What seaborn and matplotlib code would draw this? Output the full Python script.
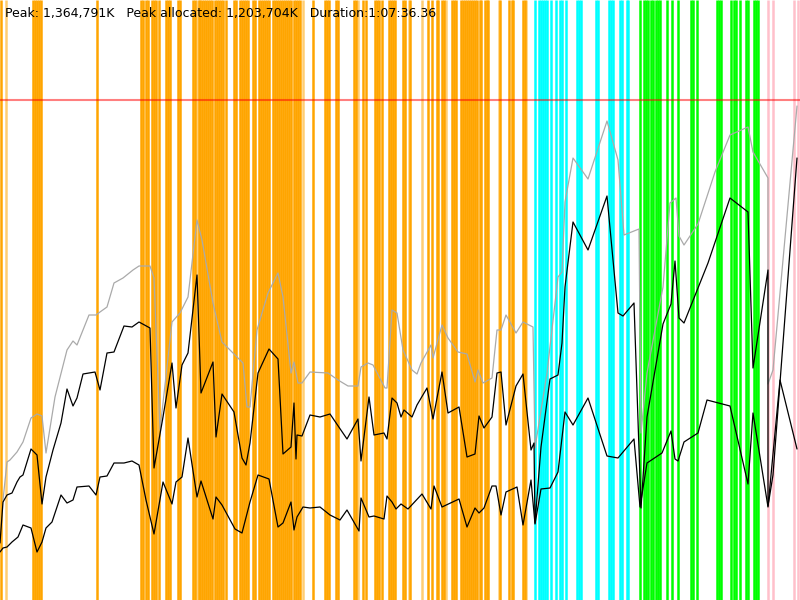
import numpy as np
import pandas as pd
import matplotlib
matplotlib.use('Agg')
import matplotlib.pyplot as plt
import seaborn as sns

# memory trace (x = time step, y = memory level)
gray_t = [3, 7, 10, 17, 23, 31, 37, 42, 46, 55, 67, 73, 77, 89, 96, 100, 107, 114, 123, 133, 139, 150, 154, 160,
          172, 180, 188, 197, 202, 213, 222, 233, 243, 247, 250, 257, 268, 278, 283, 291, 294, 298, 302, 310, 328,
          338, 348, 358, 361, 368, 373, 385, 387, 392, 397, 403, 412, 417, 421, 431, 433, 442, 448, 458, 467, 475,
          478, 483, 492, 497, 501, 506, 516, 523, 533, 535, 547, 558, 562, 565, 573, 588, 607, 618, 624, 639, 641,
          647, 663, 670, 676, 679, 684, 698, 715, 730, 748, 753, 768, 768, 773, 797]
gray_v = [100, 138, 140, 148, 158, 182, 186, 184, 147, 203, 250, 259, 255, 285, 285, 288, 293, 317, 322, 330, 334,
          334, 322, 170, 278, 287, 303, 380, 360, 297, 258, 247, 237, 193, 193, 270, 307, 327, 303, 227, 238, 217,
          217, 228, 227, 220, 214, 214, 233, 237, 235, 212, 212, 290, 287, 250, 230, 226, 237, 255, 242, 275, 262,
          248, 246, 218, 230, 217, 222, 270, 270, 285, 267, 278, 273, 152, 227, 323, 328, 398, 442, 421, 479, 440,
          365, 371, 167, 227, 313, 397, 402, 364, 355, 376, 428, 465, 473, 448, 422, 216, 230, 494]

used_t = [0, 3, 7, 12, 17, 20, 23, 31, 37, 42, 46, 53, 61, 67, 73, 77, 83, 95, 100, 107, 114, 124, 132, 139, 150,
          154, 163, 172, 176, 182, 188, 197, 201, 213, 216, 222, 234, 242, 246, 250, 258, 269, 278, 283, 291, 294,
          296, 297, 302, 310, 320, 330, 347, 358, 361, 369, 374, 384, 387, 392, 397, 401, 404, 412, 417, 427, 433,
          442, 448, 459, 467, 475, 479, 484, 492, 497, 501, 506, 516, 523, 531, 534, 535, 541, 550, 558, 562, 565,
          573, 588, 607, 618, 623, 634, 641, 647, 663, 671, 675, 679, 684, 708, 730, 748, 753, 768, 768, 773, 797]
used_v = [57, 98, 105, 107, 118, 123, 125, 151, 145, 96, 123, 150, 177, 211, 194, 202, 226, 228, 210, 247, 248, 274,
          273, 278, 272, 132, 183, 237, 192, 235, 247, 325, 207, 238, 163, 206, 188, 142, 135, 157, 227, 251, 241,
          146, 153, 197, 141, 165, 164, 185, 183, 186, 161, 181, 139, 203, 165, 167, 161, 202, 197, 183, 190, 183,
          195, 212, 181, 228, 187, 193, 143, 146, 184, 172, 183, 227, 228, 175, 214, 226, 150, 157, 77, 153, 221,
          225, 257, 313, 378, 350, 404, 287, 284, 297, 92, 183, 276, 296, 339, 282, 277, 337, 402, 388, 232, 330,
          94, 125, 442]

low_t = [0, 3, 7, 12, 18, 23, 31, 37, 42, 46, 52, 55, 61, 67, 73, 77, 89, 96, 100, 107, 114, 124, 132, 139, 146,
         154, 163, 172, 176, 182, 188, 197, 201, 213, 216, 222, 235, 242, 250, 258, 269, 278, 283, 291, 294, 297,
         303, 310, 320, 330, 340, 347, 359, 361, 369, 374, 384, 387, 392, 396, 401, 408, 422, 431, 434, 442, 459,
         467, 475, 479, 484, 492, 496, 501, 506, 517, 523, 531, 535, 541, 550, 558, 565, 573, 588, 607, 618, 634,
         640, 647, 662, 671, 675, 678, 684, 698, 707, 730, 748, 753, 768, 780, 797]
low_v = [48, 52, 53, 58, 63, 75, 72, 48, 58, 72, 78, 87, 105, 97, 100, 113, 114, 105, 123, 124, 137, 137, 139, 135,
         100, 66, 118, 96, 118, 123, 162, 103, 119, 81, 103, 95, 71, 67, 98, 125, 121, 73, 77, 98, 70, 83, 93, 92,
         93, 85, 80, 90, 69, 102, 83, 84, 81, 104, 98, 91, 96, 91, 106, 91, 114, 93, 101, 73, 92, 87, 92, 114, 114,
         85, 108, 113, 75, 120, 76, 111, 112, 128, 188, 175, 202, 144, 142, 161, 93, 137, 147, 169, 141, 139, 158,
         167, 200, 194, 116, 187, 93, 220, 151]

peak_level = 500

# event markers by phase
orange_events = [1, 33, 35, 37, 39, 41, 97, 141, 143, 146, 148, 152, 154, 156, 159, 166, 168, 170, 178, 180, 193,
                 195, 199, 200, 202, 204, 206, 208, 210, 212, 215, 217, 219, 221, 223, 226, 234, 236, 240, 242, 244,
                 246, 248, 253, 255, 259, 261, 263, 265, 267, 269, 273, 275, 277, 279, 281, 283, 285, 287, 289, 291,
                 294, 296, 298, 300, 313, 325, 327, 329, 336, 338, 354, 356, 363, 366, 375, 377, 379, 382, 389, 391,
                 393, 395, 403, 405, 410, 428, 432, 437, 438, 442, 444, 452, 454, 456, 461, 463, 465, 467, 469, 471,
                 473, 475, 477, 480, 481, 485, 487, 488, 500, 509, 512, 513, 523, 525]
orange_faint = [6, 197, 303, 358, 409, 422, 446, 499, 526]
cyan_events = [535, 539, 541, 543, 545, 547, 551, 556, 560, 562, 566, 577, 579, 581, 596, 598, 609, 611, 613, 620,
               622, 627, 628]
green_events = [639.5, 644, 646, 648, 651, 653, 656, 658, 660, 667, 672, 678, 691, 693, 697, 717, 719, 721, 731,
                734, 736, 740, 746, 748, 754, 756, 758]
pink_events = [767.5, 773, 794, 798]

header = 'Peak: 1,364,791K   Peak allocated: 1,203,704K   Duration:1:07:36.36'

sns.set_style('white')
fig = plt.figure(figsize=(8, 6), dpi=100)
ax = fig.add_axes([0, 0, 1, 1])

lw_ev = 1.8
ax.vlines(orange_events, 0, 600, color='#ffa500', lw=lw_ev, zorder=1)
ax.vlines(orange_faint, 0, 600, color='#ffa500', lw=lw_ev, alpha=0.55, zorder=1)
ax.vlines(cyan_events, 0, 600, color='#00ffff', lw=lw_ev, zorder=1)
ax.vlines(green_events, 0, 600, color='#00ff00', lw=lw_ev, zorder=1)
ax.vlines(pink_events, 0, 600, color='#ffc0cb', lw=lw_ev, zorder=1)

ax.axhline(peak_level, color='red', lw=1.5, alpha=0.5, zorder=2)

gray_df = pd.DataFrame({'t': gray_t, 'mem': gray_v})
used_df = pd.DataFrame({'t': used_t, 'mem': used_v})
low_df = pd.DataFrame({'t': low_t, 'mem': low_v})

sns.lineplot(data=gray_df, x='t', y='mem', color='#aaaaaa', lw=0.9, sort=False, estimator=None, ax=ax, zorder=3)
sns.lineplot(data=used_df, x='t', y='mem', color='black', lw=0.9, sort=False, estimator=None, ax=ax, zorder=4)
sns.lineplot(data=low_df, x='t', y='mem', color='black', lw=0.9, sort=False, estimator=None, ax=ax, zorder=4)

ax.set_xlim(0, 800)
ax.set_ylim(0, 600)
ax.axis('off')

ax.text(5, 593, header, fontsize=9, color='black', va='top', ha='left', zorder=5)

fig.savefig('out.png', dpi=100)
